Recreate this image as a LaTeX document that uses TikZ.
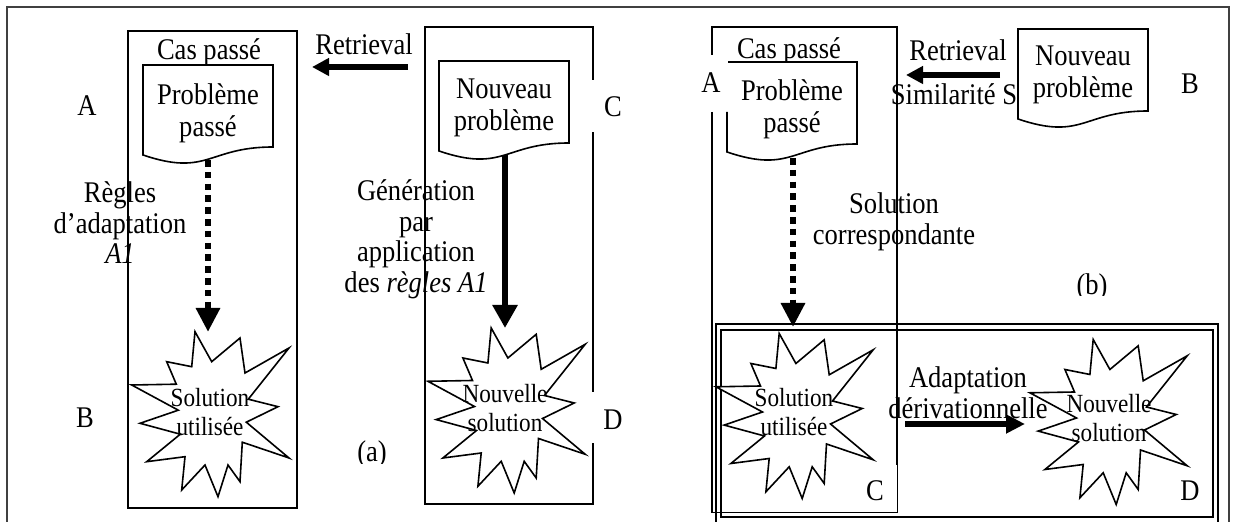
\documentclass[tikz,border=0pt]{standalone}
\usepackage{fontspec}
\setmainfont{Liberation Serif}[FakeStretch=0.885]
\usetikzlibrary{arrows.meta}

\newcommand\docfont{\fontsize{15}{16}\selectfont}
\newcommand\lblfont{\fontsize{15}{15.25}\selectfont}
\newcommand\burstfont{\fontsize{13.1}{14.25}\selectfont}
\newcommand\stack[1]{\begin{tabular}[t]{@{}c@{}}#1\end{tabular}}

% twelve-spike burst outline, relative to its centre (pixel units)
\newcommand\burstpath{(-15.3,-82.5) -- (1.4,-52.5) -- (29.7,-76.2) -- (34.7,-41.2) -- (78.7,-66.2) -- (38,-15) -- (67.7,-7.5) -- (36,8) -- (78.7,43.8) -- (32,28) -- (29.7,67.5) -- (17.7,50.8) -- (7.7,82.5) -- (-5.3,50.8) -- (-28.6,75.8) -- (-25.3,42.5) -- (-63.6,47.5) -- (-30,20) -- (-70.3,9.1) -- (-32,-4) -- (-78.6,-29.2) -- (-34,-30) -- (-43.6,-52.5) -- (-18.6,-47.5) -- cycle}

% flowchart "document" outline from its top-left corner
\newcommand\docpath[2]{(#1,#2) -- (#1+130,#2) -- (#1+130,#2+82) .. controls (#1+65,#2+82) and (#1+65,#2+112) .. (#1,#2+90) -- cycle}

\begin{document}
\begin{tikzpicture}[x=0.5pt,y=-0.5pt,
  boxline/.style={line width=0.8pt},
  burst/.style={line width=0.8pt, fill=white, line join=miter},
  txt/.style={inner sep=0pt, anchor=base, font=\lblfont},
  doctxt/.style={inner sep=0pt, anchor=base, font=\docfont},
  bursttxt/.style={inner sep=0pt, anchor=base, font=\burstfont},
  dotarrow/.style={line width=3.4pt, dash pattern=on 3.3pt off 2.6pt, -{Triangle[length=12pt,width=11.5pt]}},
  solidarrow/.style={line width=3.3pt, -{Triangle[length=11.5pt,width=12pt]}},
  retarrow/.style={line width=2.9pt, -{Triangle[length=8.5pt,width=8.5pt]}},
]
\useasboundingbox (0,0) rectangle (1237,522);
\clip (0,0) rectangle (1237,522);
\fill[white] (0,0) rectangle (1237,522);

% outer frame
\draw[line width=1pt, black!75] (7,540) -- (7,7) -- (1229,7) -- (1229,540);

% ================= panel (a) =================
% past case
\draw[boxline] (128,31) rectangle (297,508);
\node[doctxt] (casA) at (209,60) {Cas passé};
\draw[boxline, fill=white] \docpath{143}{65};
\node[doctxt] (pbA) at (208,105) {\stack{Problème\\passé}};
\node[txt] (lblAa) at (87,116) {A};
\node[txt] (rules) at (120,203) {\stack{Règles\\d’adaptation\\\textit{A1}}};
\coordinate (solAc) at (210.3,414.2);
\draw[burst, shift={(solAc)}] \burstpath;
\node[bursttxt] (solA) at (210,407) {\stack{Solution\\utilisée}};
\node[txt] (lblBa) at (85,428) {B};
\coordinate (pbAout) at (208,160);
\coordinate (solAin) at (208,332);
\draw[dotarrow] (pbAout) -- (solAin);

% retrieval
\node[txt] (retA) at (364,55) {Retrieval};
\coordinate (retAfrom) at (408,67);
\coordinate (retAto) at (312,67);
\draw[retarrow] (retAfrom) -- (retAto);

% new case
\draw[boxline] (593,80) -- (593,27) -- (425,27) -- (425,504) -- (593,504) -- (593,443);
\draw[boxline] (593,392) -- (593,132);
\draw[boxline, fill=white] \docpath{439}{61};
\node[doctxt] (npA) at (504,99) {\stack{Nouveau\\problème}};
\node[txt] (lblCa) at (613,117) {C};
\node[txt] (gen) at (416,201) {\stack{Génération\\par\\application\\des \textit{règles A1}}};
\coordinate (nsAc) at (506.5,410.5);
\draw[burst, shift={(nsAc)}] \burstpath;
\node[bursttxt] (nsA) at (505,403) {\stack{Nouvelle\\solution}};
\node[txt] (lblDa) at (613,430) {D};
\coordinate (npAout) at (505,155);
\coordinate (nsAin) at (505,328);
\draw[solidarrow] (npAout) -- (nsAin);
\begin{scope}
  \clip (330,430) rectangle (420,464);
  \node[txt] (capA) at (372,462) {(a)};
\end{scope}

% ================= panel (b) =================
\draw[boxline] (716,324) rectangle (1218,540);
\draw[boxline] (721,330) rectangle (1213,517);
% past case
\draw[boxline] (712,55) -- (712,27) -- (897,27) -- (897,465);
\draw[boxline] (712,112) -- (712,512.5) -- (847,512.5);
\draw[line width=0.4pt] (847,512.5) -- (897,512.5) -- (897,465);
\node[doctxt] (casB) at (789,59) {Cas passé};
\fill[white] \docpath{727}{62};
\draw[boxline] (727,112) -- (727,152) .. controls (792,174) and (792,144) .. (857,144) -- (857,62) -- (728,62);
\node[doctxt] (pbB) at (792,101) {\stack{Problème\\passé}};
\node[txt] (lblAb) at (711,93) {A};
% retrieval by similarity
\node[txt] (retB) at (958,61) {Retrieval};
\node[txt] (simB) at (954,105) {Similarité S};
\draw[boxline, fill=white] \docpath{1018}{29};
\node[doctxt] (npB) at (1083,66) {\stack{Nouveau\\problème}};
\node[txt] (lblBb) at (1190,94) {B};
\coordinate (retBfrom) at (1000,75);
\coordinate (retBto) at (906,75);
\draw[retarrow] (retBfrom) -- (retBto);
% corresponding solution
\node[txt] (corr) at (894,214) {\stack{Solution\\correspondante}};
\begin{scope}
  \clip (1050,260) rectangle (1140,296);
  \node[txt] (capB) at (1092,295) {(b)};
\end{scope}
\coordinate (solBc) at (794.5,416);
\draw[burst, shift={(solBc)}] \burstpath;
\node[bursttxt] (solB) at (794,407) {\stack{Solution\\utilisée}};
\coordinate (pbBout) at (793,158);
\coordinate (solBin) at (793,327);
\draw[dotarrow] (pbBout) -- (solBin);
% derivational adaptation
\node[txt] (adapt) at (968,388) {\stack{Adaptation\\dérivationnelle}};
\coordinate (nsBc) at (1108.5,422);
\draw[burst, shift={(nsBc)}] \burstpath;
\node[bursttxt] (nsB) at (1109,413) {\stack{Nouvelle\\solution}};
\coordinate (adFrom) at (905,424);
\coordinate (adTo) at (1025,424);
\draw[solidarrow, -{Triangle[length=9.5pt,width=9pt]}, line width=3pt] (adFrom) -- (adTo);
\node[txt] (lblCb) at (875,501) {C};
\node[txt] (lblDb) at (1190,501) {D};
\end{tikzpicture}
\end{document}
